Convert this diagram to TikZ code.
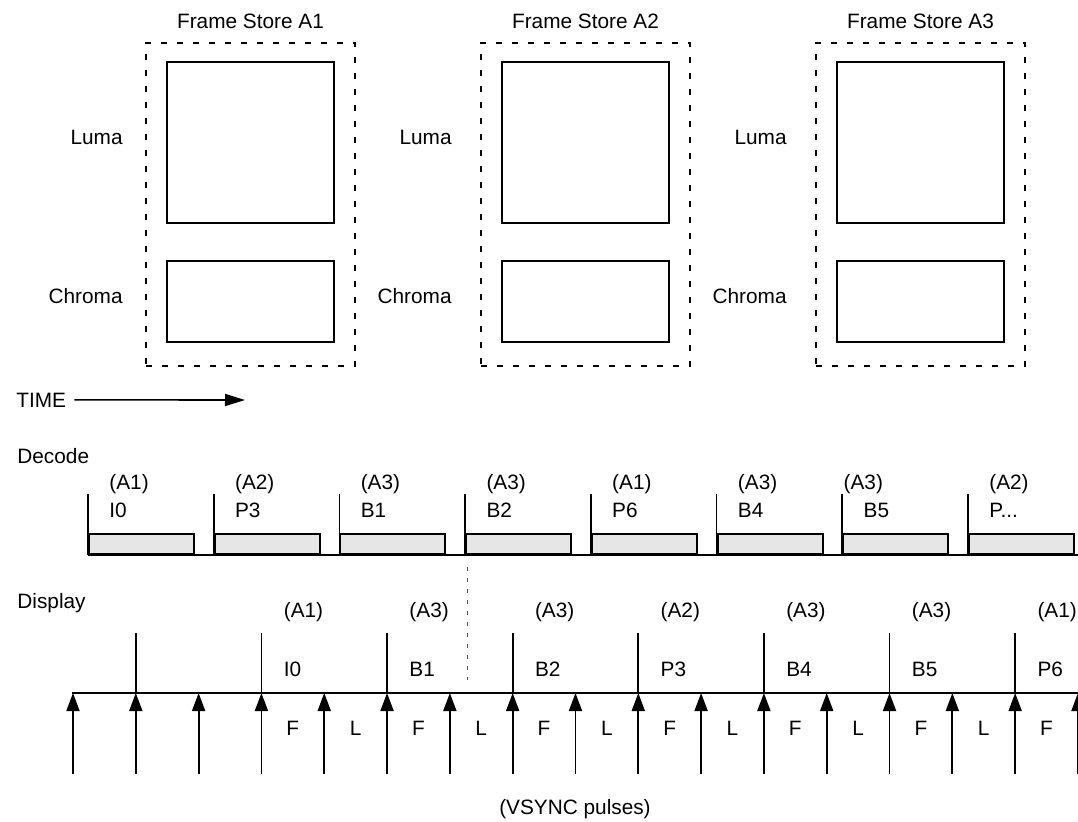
\documentclass[tikz,border=0pt]{standalone}
\usepackage{fontspec}
\setmainfont{Liberation Sans}
\usetikzlibrary{arrows.meta,positioning}
\definecolor{slotgrey}{RGB}{230,230,230}
\definecolor{guidegrey}{RGB}{80,80,80}
\newcommand{\contpic}{P...}

\begin{document}
\begin{tikzpicture}[x=0.5pt, y=-0.5pt,
  every node/.style={font=\fontsize{10.4}{12}\selectfont, inner sep=0pt},
  store/.style={draw, line width=1pt, dash pattern=on 3pt off 5pt, minimum width=104.5pt, minimum height=161.5pt},
  plane/.style={draw, line width=1pt, minimum width=83.5pt},
  slotbox/.style={draw, line width=1pt, fill=slotgrey, anchor=south west, minimum width=52.5pt, minimum height=10pt},
  tickline/.style={line width=0.9pt},
  baseline/.style={line width=0.7pt},
  pulse/.style={line width=0.9pt, -{Triangle[length=9pt,width=6.5pt]}},
  guide/.style={guidegrey, line width=0.5pt, dash pattern=on 2pt off 3.5pt}]
  \useasboundingbox (0,0) rectangle (1078,821);
  % frame stores with luma and chroma planes
  \foreach \n/\cx/\lx in {A1/250.5/123, A2/585.5/452, A3/920.5/787} {
    \node[anchor=base] (title\n) at (\cx,28) {Frame Store \n};
    \node[store] (fs\n) at (\cx,204.5) {};
    \node[plane, minimum height=80.5pt] (luma\n) at (\cx,142.5) {};
    \node[plane, minimum height=40.5pt] (chroma\n) at (\cx,301.5) {};
    \node[anchor=base east] (lumalbl\n) at (\lx,144) {Luma};
    \node[anchor=base east] (chromalbl\n) at (\lx,303) {Chroma};
  }
  % time axis
  \node[anchor=base west] (time) at (16,407) {TIME};
  \coordinate (timeend) at (245,400);
  \draw[line width=0.8pt, -{Triangle[length=10pt,width=6pt]}] ([xshift=4pt]time.east) -- (timeend);
  % decode row
  \node[anchor=base west] (decode) at (17,463) {Decode};
  \coordinate (dstart) at (88,555);
  \coordinate (dend) at (1078,555);
  \draw[baseline] (dstart) -- (dend);
  \foreach \j/\f/\p/\off in {0/A1/I0/21, 1/A2/P3/21, 2/A3/B1/21, 3/A3/B2/21, 4/A1/P6/21, 5/A3/B4/21, 6/A3/B5/1, 7/A2/\contpic/21} {
    \pgfmathsetmacro\dx{88+125.71*\j}
    \coordinate (dtick\j) at (\dx,555);
    \coordinate (dtop\j) at (\dx,494);
    \draw[tickline] (dtick\j) -- (dtop\j);
    \node[slotbox] (slot\j) at (dtick\j) {};
    \node[anchor=base west] (dfs\j) at (\dx+\off,489) {(\f)};
    \node[anchor=base west] (dpic\j) at (\dx+21,517) {\p};
  }
  % guide from decode of B2 down to display
  \coordinate (gtop) at (467,567);
  \coordinate (gbot) at (467,680);
  \draw[guide] (gtop) -- (gbot);
  % display row
  \node[anchor=base west] (display) at (17,608) {Display};
  \coordinate (vstart) at (72,693);
  \coordinate (vend) at (1078,693);
  \draw[line width=0.9pt] (vstart) -- (vend);
  \foreach \k in {0,...,16} {
    \pgfmathsetmacro\vx{73+62.81*\k}
    \coordinate (v\k) at (\vx,693);
    \coordinate (vb\k) at (\vx,774);
    \coordinate (vt\k) at (\vx,633);
    \draw[pulse] (vb\k) -- (v\k);
  }
  \foreach \k in {1,3,...,15}
    \draw[tickline] (v\k) -- (vt\k);
  \foreach \k/\f/\p in {3/A1/I0, 5/A3/B1, 7/A3/B2, 9/A2/P3, 11/A3/B4, 13/A3/B5, 15/A1/P6} {
    \node[anchor=base west] (sfs\k) at ([xshift=11pt]vt\k |- 0,617) {(\f)};
    \node[anchor=base west] (spic\k) at ([xshift=11pt]vt\k |- 0,676) {\p};
  }
  \foreach \k in {3,5,...,15}
    \node[anchor=base] (fld\k) at ([xshift=15.7pt]v\k |- 0,735) {F};
  \foreach \k in {4,6,...,14}
    \node[anchor=base] (lin\k) at ([xshift=15.7pt]v\k |- 0,735) {L};
  \node[anchor=base] (vsync) at (575,814) {(VSYNC pulses)};
\end{tikzpicture}
\end{document}
